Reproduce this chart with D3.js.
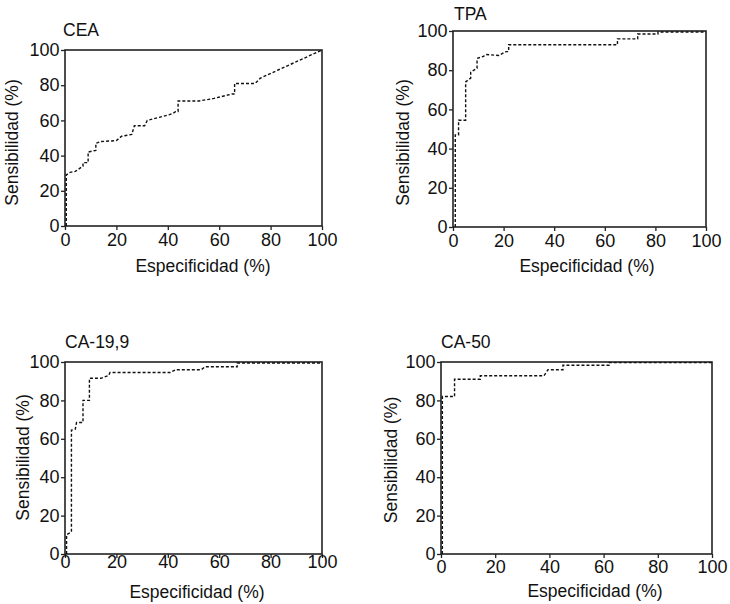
<!DOCTYPE html>
<html>
<head>
<meta charset="utf-8">
<script src="https://cdn.jsdelivr.net/npm/d3@7/dist/d3.min.js"></script>
<style>
  html, body { margin: 0; padding: 0; background: #fff; }
  svg { display: block; font-family: "Liberation Sans", Arial, Helvetica, sans-serif; }
  .tick text { font-size: 18px; fill: #111; }
  .tick line { stroke: #222; stroke-width: 1.3; }
  .domain { display: none; }
</style>
</head>
<body>
<svg id="chart" width="730" height="604"></svg>
<script>
// ROC curves: [especificidad %, sensibilidad %] vertices
const ceaCurve = [
  [0.5, 0], [0.5, 29], [2, 30.5], [4, 31], [6, 33], [7, 34], [7, 36], [9, 36],
  [9, 42], [12, 43], [12, 47], [14, 48], [20, 48.5], [22, 51], [26, 52], [27, 57],
  [31, 57], [32, 60], [36, 61.5], [40, 63], [42, 64], [43, 65], [44, 65], [44, 71],
  [52, 71], [58, 72.5], [65, 75], [66, 75], [66, 81], [74, 81], [76, 84], [100, 100]
];
const tpaCurve = [
  [0.9, 0], [0.9, 47], [2.2, 47], [2.2, 54.5], [5, 54.5], [5, 74], [7, 76], [7, 79],
  [9.5, 81], [9.5, 86], [12, 87], [13, 88], [18, 87.5], [21, 89.5], [22, 89.5], [22, 93],
  [65, 93], [65, 96], [73, 96], [73, 98.5], [81, 98.5], [81, 99.5], [100, 99.5]
];
const ca199Curve = [
  [0.6, 0], [0.6, 10], [2.5, 11.5], [2.5, 64.5], [4, 65], [4.5, 68.5], [7, 68.5], [7, 80],
  [9.5, 80], [9.5, 91.5], [14, 91.5], [17, 93], [17.5, 94.5], [41, 94.5], [43, 96],
  [53, 96], [54.5, 97.5], [67, 97.5], [67, 99.5], [100, 99.5]
];
const ca50Curve = [
  [0.5, 0], [0.5, 82], [5, 82], [5, 91], [14.5, 91], [14.5, 92.8], [38, 92.8], [39.5, 96],
  [45, 96], [45, 98.3], [62, 98.3], [62, 99.7], [100, 99.7]
];

const tickValues = [0, 20, 40, 60, 80, 100];
const panelTitles = ['CEA', 'TPA', 'CA-19,9', 'CA-50'];
const xTitle = 'Especificidad (%)';
const yTitle = 'Sensibilidad (%)';

// plot frames and text placement for each panel
const panels = [
  { curve: ceaCurve,   left: 65,  right: 322, top: 50,  bottom: 226, tx: 63,  ty: 36,
    xtCenter: 203, xtBase: 271.5, ytX: 18,  ytY: 142.5, xlab: 20 },
  { curve: tpaCurve,   left: 453, right: 706, top: 31,  bottom: 227, tx: 454, ty: 20,
    xtCenter: 587, xtBase: 271.5, ytX: 409, ytY: 142.5, xlab: 20 },
  { curve: ca199Curve, left: 65,  right: 322, top: 362, bottom: 554, tx: 65,  ty: 347.5,
    xtCenter: 197, xtBase: 598,   ytX: 29,  ytY: 457.5, xlab: 14.5 },
  { curve: ca50Curve,  left: 441, right: 712, top: 362, bottom: 554, tx: 441, ty: 347.5,
    xtCenter: 595, xtBase: 597,   ytX: 397, ytY: 460,   xlab: 19 }
];

const svg = d3.select('#chart');

panels.forEach((p, i) => {
  const x = d3.scaleLinear().domain([0, 100]).range([p.left, p.right]);
  const y = d3.scaleLinear().domain([0, 100]).range([p.bottom, p.top]);
  const g = svg.append('g');

  // axes
  g.append('g')
    .attr('transform', `translate(0,${p.bottom})`)
    .call(d3.axisBottom(x).tickValues(tickValues).tickSize(4).tickSizeOuter(0).tickPadding(p.xlab - 17))
    .selectAll('text').attr('dy', '0.71em');

  g.append('g')
    .attr('transform', `translate(${p.left},0)`)
    .call(d3.axisLeft(y).tickValues(tickValues).tickSize(4).tickSizeOuter(0).tickPadding(1.5));

  // frame
  g.append('rect')
    .attr('x', p.left)
    .attr('y', p.top)
    .attr('width', p.right - p.left)
    .attr('height', p.bottom - p.top)
    .style('fill', 'none')
    .style('stroke', '#222')
    .style('stroke-width', 1.6);

  // curve
  const line = d3.line().x(d => x(d[0])).y(d => y(d[1]));
  g.append('path')
    .datum(p.curve)
    .attr('d', line)
    .style('fill', 'none')
    .style('stroke', '#111')
    .style('stroke-width', 1.4)
    .style('stroke-dasharray', '3,2');

  // texts
  g.append('text')
    .attr('x', p.tx)
    .attr('y', p.ty)
    .style('font-size', '17.5px')
    .style('fill', '#111')
    .text(panelTitles[i]);

  g.append('text')
    .attr('x', p.xtCenter)
    .attr('y', p.xtBase)
    .attr('text-anchor', 'middle')
    .style('font-size', '17.5px')
    .style('fill', '#111')
    .text(xTitle);

  g.append('text')
    .attr('transform', `translate(${p.ytX},${p.ytY}) rotate(-90)`)
    .attr('text-anchor', 'middle')
    .style('font-size', '17.5px')
    .style('fill', '#111')
    .text(yTitle);
});
</script>
</body>
</html>
